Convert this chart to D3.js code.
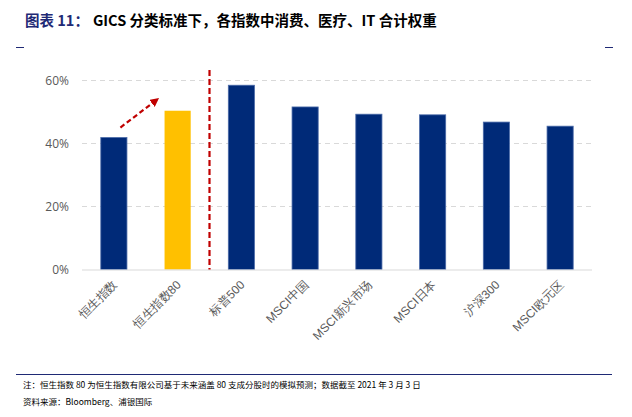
<!DOCTYPE html>
<html>
<head>
<meta charset="utf-8">
<script src="https://cdn.jsdelivr.net/npm/d3@7"></script>
<style>
  body { margin: 0; background: #fff; }
  svg { display: block; font-family: "Noto Sans CJK SC", "DejaVu Sans", sans-serif; }
</style>
</head>
<body>
<svg id="chart" width="632" height="417"></svg>
<script>
// data
const categories = ["恒生指数", "恒生指数80", "标普500", "MSCI中国", "MSCI新兴市场", "MSCI日本", "沪深300", "MSCI欧元区"];
const weights = [0.419, 0.504, 0.585, 0.516, 0.493, 0.491, 0.468, 0.455];
const highlight = ["恒生指数80"];
const yTicks = [0, 0.2, 0.4, 0.6];

const svg = d3.select("#chart");
const navy = "#002a78";

// title
const title = svg.append("text").attr("x", 25).attr("y", 26)
  .style("font-size", "14.5px").style("font-weight", "bold");
title.append("tspan").attr("fill", "#1f2a75").text("图表 11：");
title.append("tspan").attr("fill", "#000").attr("dx", 4).text("GICS 分类标准下，各指数中消费、医疗、IT 合计权重");

// little marks under title
svg.append("line").attr("x1", 16).attr("x2", 24).attr("y1", 47.5).attr("y2", 47.5).attr("stroke", "#1f2a75");
svg.append("line").attr("x1", 605).attr("x2", 613).attr("y1", 47.5).attr("y2", 47.5).attr("stroke", "#1f2a75");

const x = d3.scaleBand().domain(categories).range([82, 592]).paddingInner(0.59).paddingOuter(0.295);
const y = d3.scaleLinear().domain([0, 0.6]).range([269.5, 80.5]);

// gridlines
svg.append("g").selectAll("line")
  .data(yTicks.filter(d => d > 0)).enter().append("line")
  .attr("x1", 82).attr("x2", 592)
  .attr("y1", d => y(d)).attr("y2", d => y(d))
  .attr("stroke", "#d9d9d9").attr("stroke-dasharray", "5,4");

// y axis
const yAxis = svg.append("g").attr("transform", "translate(82,0)")
  .call(d3.axisLeft(y).tickValues(yTicks).tickFormat(d3.format(".0%")).tickSize(0).tickPadding(13));
yAxis.select(".domain").remove();
yAxis.selectAll("text").attr("fill", "#595959").style("font-size", "12px")
  .style("font-family", "'Open Sans', 'DejaVu Sans', sans-serif");

// bars
svg.append("g").selectAll("rect")
  .data(categories).enter().append("rect")
  .attr("x", d => x(d))
  .attr("width", x.bandwidth())
  .attr("y", (d, i) => y(weights[i]))
  .attr("height", (d, i) => y(0) - y(weights[i]))
  .attr("fill", d => highlight.includes(d) ? "#ffc000" : navy)
  .attr("stroke", d => highlight.includes(d) ? "none" : "#4a6aa8")
  .attr("stroke-width", 0.8);

// baseline
svg.append("line").attr("x1", 82).attr("x2", 592)
  .attr("y1", y(0) + 0.5).attr("y2", y(0) + 0.5).attr("stroke", "#d9d9d9").attr("stroke-width", 1.2);

// x labels
const xAxis = svg.append("g").attr("transform", `translate(0,${y(0)})`)
  .call(d3.axisBottom(x).tickSize(0).tickPadding(0));
xAxis.select(".domain").remove();
xAxis.selectAll("text")
  .attr("fill", "#595959").style("font-size", "12px")
  .attr("text-anchor", "end")
  .attr("dy", 0)
  .attr("transform", "translate(4,16) rotate(-45)");

// red dashed divider
const divX = x(categories[2]) - x.step() * x.paddingInner() / 2;
svg.append("line").attr("x1", divX).attr("x2", divX).attr("y1", 70).attr("y2", y(0))
  .attr("stroke", "#c00000").attr("stroke-width", 2.2).attr("stroke-dasharray", "6,3");

// red dashed arrow
svg.append("defs").append("marker").attr("id", "arr")
  .attr("viewBox", "0 0 10 10").attr("refX", 5).attr("refY", 5)
  .attr("markerWidth", 4).attr("markerHeight", 4).attr("orient", "auto")
  .append("path").attr("d", "M0,0 L10,5 L0,10 Z").attr("fill", "#c00000");
const ax1 = x(categories[0]) + x.bandwidth() * 0.75, ay1 = y(weights[0]) - 10;
const ax2 = x(categories[1]) - 9, ay2 = y(weights[1]) - 10;
svg.append("line").attr("x1", ax1).attr("y1", ay1).attr("x2", ax2).attr("y2", ay2)
  .attr("stroke", "#c00000").attr("stroke-width", 2.2).attr("stroke-dasharray", "5,3")
  .attr("marker-end", "url(#arr)");

// footer
svg.append("line").attr("x1", 16).attr("x2", 612).attr("y1", 374.5).attr("y2", 374.5)
  .attr("stroke", "#1f2a75").attr("stroke-width", 1.2);
svg.append("text").attr("x", 23).attr("y", 388).style("font-size", "8.5px").attr("fill", "#000")
  .text("注：恒生指数 80 为恒生指数有限公司基于未来涵盖 80 支成分股时的模拟预测；数据截至 2021 年 3 月 3 日");
svg.append("text").attr("x", 23).attr("y", 405).style("font-size", "8.5px").attr("fill", "#000")
  .text("资料来源：Bloomberg、浦银国际");
</script>
</body>
</html>
